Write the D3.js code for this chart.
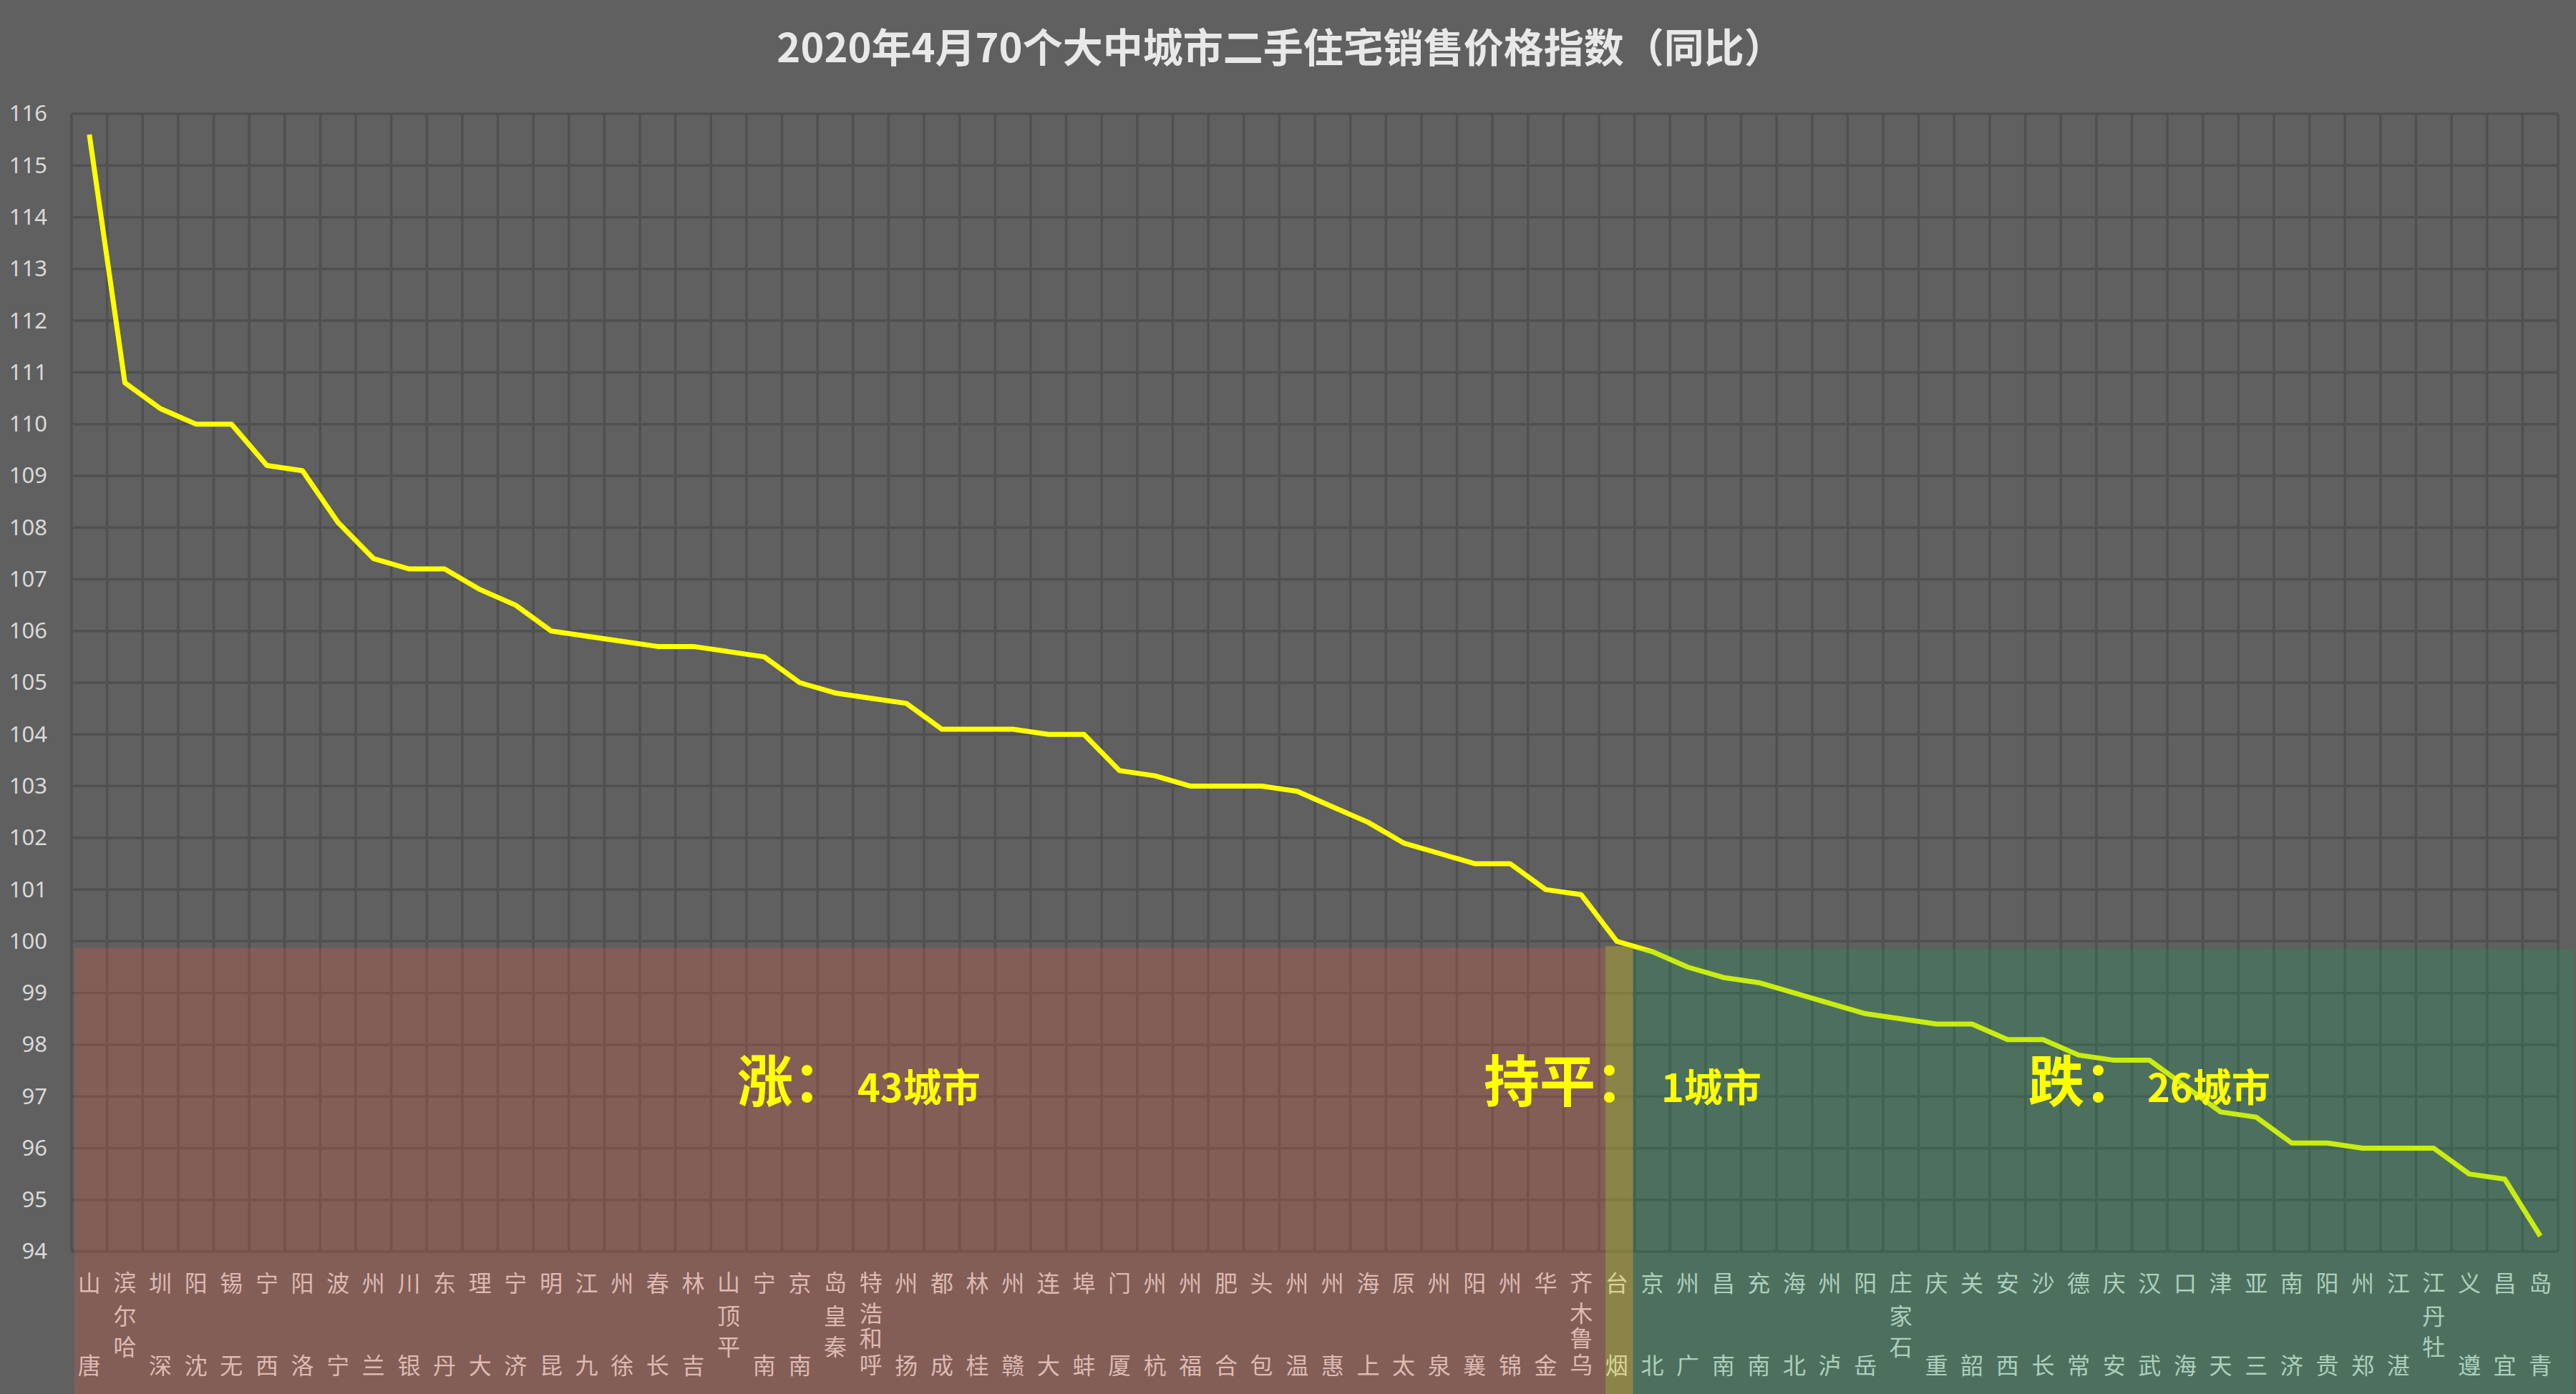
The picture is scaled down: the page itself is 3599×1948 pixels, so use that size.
<!DOCTYPE html>
<html>
<head>
<meta charset="utf-8">
<script src="https://cdn.jsdelivr.net/npm/d3@7"></script>
<style>
    html, body { margin: 0; padding: 0; background: #606060; }
    svg { display: block; }
</style>
</head>
<body>
<svg id="chart"></svg>
<script>
// chart data
const chartTitle = "2020年4月70个大中城市二手住宅销售价格指数（同比）";

const cities = [
    "唐山", "哈尔滨", "深圳", "沈阳", "无锡", "西宁", "洛阳", "宁波", "兰州", "银川",
    "丹东", "大理", "济宁", "昆明", "九江", "徐州", "长春", "吉林", "平顶山", "南宁",
    "南京", "秦皇岛", "呼和浩特", "扬州", "成都", "桂林", "赣州", "大连", "蚌埠", "厦门",
    "杭州", "福州", "合肥", "包头", "温州", "惠州", "上海", "太原", "泉州", "襄阳",
    "锦州", "金华", "乌鲁木齐", "烟台", "北京", "广州", "南昌", "南充", "北海", "泸州",
    "岳阳", "石家庄", "重庆", "韶关", "西安", "长沙", "常德", "安庆", "武汉", "海口",
    "天津", "三亚", "济南", "贵阳", "郑州", "湛江", "牡丹江", "遵义", "宜昌", "青岛"
];

const values = [
    115.6, 110.8, 110.3, 110.0, 110.0, 109.2, 109.1, 108.1, 107.4, 107.2,
    107.2, 106.8, 106.5, 106.0, 105.9, 105.8, 105.7, 105.7, 105.6, 105.5,
    105.0, 104.8, 104.7, 104.6, 104.1, 104.1, 104.1, 104.0, 104.0, 103.3,
    103.2, 103.0, 103.0, 103.0, 102.9, 102.6, 102.3, 101.9, 101.7, 101.5,
    101.5, 101.0, 100.9, 100.0, 99.8, 99.5, 99.3, 99.2, 99.0, 98.8,
    98.6, 98.5, 98.4, 98.4, 98.1, 98.1, 97.8, 97.7, 97.7, 97.2,
    96.7, 96.6, 96.1, 96.1, 96.0, 96.0, 96.0, 95.5, 95.4, 94.3
];

const yTicks = [94, 95, 96, 97, 98, 99, 100, 101, 102, 103, 104, 105,
                106, 107, 108, 109, 110, 111, 112, 113, 114, 115, 116];

const groupNames = ["涨：", "持平：", "跌："];

// size
const W = 3599, H = 1948;
const margin = { top: 159, right: 25, bottom: 199, left: 100 };
const plotW = W - margin.left - margin.right;
const plotH = H - margin.top - margin.bottom;

const svg = d3.select("#chart")
    .attr("width", W)
    .attr("height", H)
    .style("background", "#606060");

// scales
const x = d3.scaleBand()
    .domain(cities)
    .range([margin.left, margin.left + plotW])
    .padding(0);

const y = d3.scaleLinear()
    .domain([yTicks[0], yTicks[yTicks.length - 1]])
    .range([margin.top + plotH, margin.top]);

const bw = x.bandwidth();
const cx = c => x(c) + bw / 2;

// title
svg.append("text")
    .attr("x", 1789)
    .attr("y", 87)
    .attr("text-anchor", "middle")
    .attr("fill", "#e8e8e8")
    .attr("font-family", "'Noto Sans CJK SC', sans-serif")
    .attr("font-weight", "bold")
    .attr("font-size", 56)
    .text(chartTitle);

// grid lines
const grid = svg.append("g").attr("stroke", "#505050").attr("stroke-width", 3.5);

grid.selectAll(".hgrid")
    .data(yTicks)
    .join("line")
    .attr("x1", margin.left)
    .attr("x2", margin.left + plotW)
    .attr("y1", d => y(d))
    .attr("y2", d => y(d));

grid.selectAll(".vgrid")
    .data(cities.map(c => x(c)).concat([margin.left + plotW]))
    .join("line")
    .attr("x1", d => d)
    .attr("x2", d => d)
    .attr("y1", y(yTicks[yTicks.length - 1]))
    .attr("y2", y(yTicks[0]));

// y axis labels
const yAxis = svg.append("g")
    .attr("transform", `translate(${margin.left - 34},0)`)
    .call(d3.axisLeft(y).tickValues(yTicks).tickSize(0).tickPadding(0).tickFormat(d3.format("d")));
yAxis.select(".domain").remove();
yAxis.selectAll("text")
    .attr("fill", "#d9d9d9")
    .attr("font-family", "'Noto Sans', 'Liberation Sans', sans-serif")
    .attr("font-size", 31);

// x axis labels, characters stacked bottom to top (per-character x/y lists)
const slotOffsets = {
    1: [100],
    2: [157, 42],
    3: [131, 88, 41],
    4: [156, 119, 84, 41]
};

svg.append("g")
    .attr("fill", "#dadada")
    .attr("font-family", "'Noto Sans CJK SC', sans-serif")
    .attr("font-size", 32)
    .selectAll("text")
    .data(cities)
    .join("text")
    .attr("text-anchor", "middle")
    .attr("dominant-baseline", "central")
    .attr("x", c => Array.from(c).map(() => cx(c)).join(" "))
    .attr("y", c => slotOffsets[Array.from(c).length].map(o => y(yTicks[0]) + o).join(" "))
    .text(c => c);

// the line
const line = d3.line()
    .x((d, i) => cx(cities[i]))
    .y(d => y(d));

svg.append("path")
    .datum(values)
    .attr("fill", "none")
    .attr("stroke", "#ffff00")
    .attr("stroke-width", 7)
    .attr("stroke-linejoin", "round")
    .attr("d", line);

// up / flat / down counts
const upCount = values.filter(v => v > 100).length;
const flatCount = values.filter(v => v === 100).length;
const downCount = values.filter(v => v < 100).length;
const counts = [upCount, flatCount, downCount];

// shaded zones over the chart
const zoneStart = [x(cities[0]) + 4, x(cities[upCount]) + 9, x(cities[upCount + flatCount]) - 2];
const zoneEnd = [x(cities[upCount]) + 9, x(cities[upCount + flatCount]) - 2, W - 3];
const zoneTop = [9, 7, 11];
const zoneFill = ["rgba(232,88,58,0.25)", "rgba(216,196,30,0.36)", "rgba(10,168,86,0.22)"];

svg.selectAll(".zone")
    .data(counts)
    .join("rect")
    .attr("x", (d, i) => zoneStart[i])
    .attr("y", (d, i) => y(100) + zoneTop[i])
    .attr("width", (d, i) => zoneEnd[i] - zoneStart[i])
    .attr("height", (d, i) => H - y(100) - zoneTop[i])
    .attr("fill", (d, i) => zoneFill[i]);

// zone annotations
const bigX = [1030, 2073, 2834];
const smallX = [1198, 2321, 3000];
const annoY = 1540;

groupNames.forEach((g, i) => {
    svg.append("text")
        .attr("x", bigX[i])
        .attr("y", annoY)
        .attr("fill", "#ffff00")
        .attr("font-family", "'Noto Sans CJK SC', sans-serif")
        .attr("font-weight", "bold")
        .attr("font-size", 78)
        .text(g);

    svg.append("text")
        .attr("x", smallX[i])
        .attr("y", annoY)
        .attr("fill", "#ffff00")
        .attr("font-family", "'Noto Sans CJK SC', sans-serif")
        .attr("font-weight", "bold")
        .attr("font-size", 54)
        .text(counts[i] + "城市");
});
</script>
</body>
</html>
